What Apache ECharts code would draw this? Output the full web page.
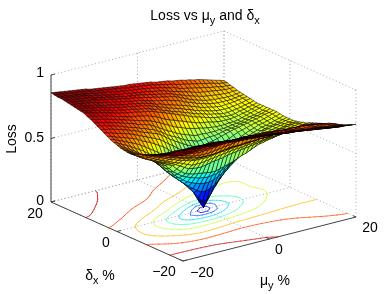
<!DOCTYPE html>
<html><head><meta charset="utf-8">
<style>html,body{margin:0;padding:0;background:#fff}#c{width:392px;height:294px}</style>
<script src="https://cdn.jsdelivr.net/npm/echarts@6/dist/echarts.min.js"></script>
</head><body><div id="c"></div>
<script>
const muValues=[-20,-19,-18,-17,-16,-15,-14,-13,-12,-11,-10,-9,-8,-7,-6,-5,-4,-3,-2,-1,0,1,2,3,4,5,6,7,8,9,10,11,12,13,14,15,16,17,18,19,20];
const deltaValues=[20,19,18,17,16,15,14,13,12,11,10,9,8,7,6,5,4,3,2,1,0,-1,-2,-3,-4,-5,-6,-7,-8,-9,-10,-11,-12,-13,-14,-15,-16,-17,-18,-19,-20];
const muTicks=[-20,0,20];
const deltaTicks=[-20,0,20];
const lossTicks=[0,0.5,1];
const contourLevels=[0.1,0.2,0.3,0.4,0.5,0.6,0.7,0.8];
const lossByDelta=[
[.86,.855,.85,.845,.84,.835,.83,.825,.82,.81,.805,.80,.795,.79,.785,.78,.775,.77,.77,.765,.76,.755,.75,.745,.735,.73,.725,.72,.71,.705,.70,.69,.685,.675,.67,.66,.65,.64,.63,.62,.61],
[.855,.85,.845,.84,.835,.83,.825,.82,.815,.805,.80,.795,.79,.785,.78,.775,.77,.76,.76,.755,.75,.745,.74,.735,.725,.72,.71,.705,.695,.685,.68,.67,.665,.655,.65,.64,.635,.625,.615,.61,.605],
[.85,.845,.84,.835,.83,.825,.82,.815,.81,.80,.795,.79,.785,.775,.77,.765,.76,.755,.75,.745,.74,.735,.73,.72,.715,.705,.695,.69,.675,.665,.66,.65,.645,.635,.63,.62,.615,.61,.60,.60,.595],
[.85,.845,.84,.835,.83,.825,.82,.81,.805,.795,.79,.78,.775,.77,.76,.76,.75,.745,.74,.735,.73,.72,.715,.71,.70,.69,.68,.67,.66,.65,.64,.63,.62,.615,.61,.605,.60,.595,.59,.59,.59],
[.845,.84,.835,.83,.825,.82,.815,.805,.80,.79,.785,.775,.77,.765,.755,.75,.745,.74,.735,.725,.72,.71,.705,.695,.69,.68,.665,.655,.64,.63,.62,.61,.60,.595,.59,.585,.58,.58,.575,.58,.58],
[.84,.835,.83,.825,.82,.815,.81,.80,.795,.785,.78,.77,.765,.76,.75,.745,.74,.73,.725,.715,.71,.70,.695,.685,.68,.67,.655,.64,.625,.61,.60,.59,.58,.575,.57,.57,.565,.565,.565,.57,.575],
[.835,.83,.825,.82,.815,.81,.80,.79,.785,.775,.77,.76,.755,.75,.74,.735,.73,.72,.71,.70,.695,.685,.68,.67,.66,.65,.635,.62,.61,.595,.585,.575,.565,.56,.555,.555,.555,.555,.56,.565,.57],
[.83,.825,.82,.81,.805,.80,.79,.78,.775,.765,.76,.75,.745,.74,.73,.725,.72,.71,.70,.685,.68,.665,.655,.645,.635,.625,.615,.60,.59,.575,.565,.56,.55,.545,.54,.545,.545,.55,.555,.56,.565],
[.825,.82,.815,.805,.80,.795,.785,.775,.765,.76,.75,.745,.74,.73,.725,.72,.71,.70,.69,.675,.665,.65,.64,.63,.62,.605,.595,.58,.57,.56,.55,.54,.535,.53,.53,.53,.535,.54,.545,.555,.56],
[.82,.815,.805,.80,.79,.785,.775,.765,.755,.75,.74,.735,.73,.72,.715,.71,.70,.685,.68,.66,.65,.635,.625,.615,.60,.59,.575,.565,.555,.545,.535,.53,.52,.515,.515,.52,.525,.53,.54,.545,.555],
[.815,.81,.80,.79,.785,.775,.765,.755,.745,.74,.73,.725,.72,.71,.705,.70,.69,.675,.665,.65,.64,.625,.61,.60,.585,.57,.56,.55,.54,.53,.52,.515,.51,.505,.505,.51,.52,.525,.535,.54,.55],
[.80,.795,.785,.775,.77,.76,.75,.74,.73,.72,.71,.705,.70,.69,.685,.67,.66,.64,.625,.61,.60,.585,.575,.56,.55,.535,.525,.52,.515,.505,.50,.495,.495,.495,.50,.505,.515,.52,.53,.54,.55],
[.79,.78,.77,.765,.755,.745,.735,.725,.715,.705,.695,.685,.675,.665,.655,.64,.625,.605,.59,.57,.555,.545,.53,.52,.51,.505,.495,.49,.485,.48,.48,.48,.485,.485,.49,.50,.51,.52,.53,.54,.55],
[.775,.765,.76,.75,.74,.73,.72,.71,.70,.69,.675,.665,.655,.645,.625,.605,.585,.565,.55,.53,.515,.50,.49,.475,.47,.47,.465,.465,.465,.47,.47,.475,.48,.485,.49,.50,.51,.515,.525,.535,.55],
[.76,.75,.745,.735,.725,.715,.705,.69,.68,.67,.655,.645,.63,.62,.60,.58,.555,.535,.52,.50,.48,.465,.455,.44,.44,.445,.45,.45,.455,.465,.47,.475,.48,.49,.495,.505,.515,.52,.53,.54,.55],
[.745,.735,.73,.72,.71,.70,.69,.675,.665,.65,.635,.625,.61,.60,.58,.555,.53,.51,.49,.47,.45,.435,.42,.41,.415,.425,.43,.44,.45,.46,.47,.48,.485,.495,.50,.51,.515,.525,.535,.54,.55],
[.73,.72,.71,.70,.69,.68,.67,.655,.64,.625,.61,.595,.58,.565,.54,.515,.49,.465,.44,.42,.395,.38,.365,.355,.36,.375,.39,.405,.42,.435,.45,.465,.475,.485,.495,.505,.51,.52,.53,.54,.55],
[.715,.705,.69,.68,.67,.655,.645,.63,.61,.595,.58,.56,.54,.52,.495,.46,.42,.385,.35,.32,.29,.27,.26,.265,.285,.31,.335,.36,.385,.405,.425,.445,.46,.475,.485,.50,.505,.515,.525,.535,.545],
[.70,.69,.675,.66,.645,.63,.615,.595,.575,.55,.53,.505,.48,.45,.42,.39,.355,.315,.27,.225,.18,.16,.16,.195,.24,.28,.315,.345,.37,.395,.415,.44,.455,.47,.48,.495,.50,.51,.52,.53,.54],
[.69,.675,.655,.64,.62,.60,.58,.56,.535,.51,.48,.45,.42,.39,.36,.33,.29,.25,.20,.15,.09,.08,.12,.18,.23,.27,.305,.335,.365,.39,.415,.435,.455,.47,.485,.495,.505,.51,.52,.53,.54],
[.68,.66,.64,.62,.60,.575,.55,.525,.50,.465,.43,.395,.36,.335,.305,.27,.235,.20,.135,.07,.015,.07,.135,.20,.235,.27,.305,.335,.365,.395,.42,.44,.46,.48,.50,.505,.515,.52,.525,.535,.54],
[.67,.65,.63,.61,.59,.57,.545,.52,.49,.455,.415,.38,.345,.315,.285,.25,.21,.17,.12,.085,.09,.13,.18,.225,.265,.30,.33,.36,.385,.41,.43,.45,.47,.49,.50,.51,.515,.525,.53,.535,.54],
[.665,.645,.625,.605,.59,.565,.54,.515,.485,.45,.41,.375,.345,.31,.28,.25,.225,.20,.18,.18,.19,.21,.24,.275,.305,.335,.36,.385,.41,.43,.45,.47,.485,.50,.51,.515,.52,.53,.535,.54,.545],
[.66,.64,.62,.60,.585,.565,.54,.515,.49,.455,.42,.385,.355,.33,.305,.29,.275,.265,.26,.26,.27,.285,.305,.33,.36,.385,.41,.43,.45,.47,.485,.50,.51,.52,.525,.53,.535,.54,.545,.55,.55],
[.66,.64,.62,.60,.585,.565,.545,.525,.50,.465,.43,.405,.38,.365,.35,.34,.33,.325,.32,.325,.33,.345,.36,.38,.40,.42,.44,.455,.47,.49,.50,.51,.52,.525,.53,.535,.54,.545,.55,.555,.56],
[.665,.64,.62,.60,.585,.565,.55,.535,.515,.50,.465,.435,.41,.40,.39,.385,.38,.375,.37,.37,.38,.39,.40,.41,.425,.44,.45,.465,.48,.495,.50,.51,.515,.525,.53,.535,.54,.55,.555,.56,.565],
[.675,.65,.63,.61,.595,.58,.565,.55,.535,.52,.50,.48,.46,.455,.45,.45,.455,.465,.47,.475,.48,.49,.495,.50,.505,.51,.515,.52,.525,.53,.535,.54,.54,.545,.55,.555,.56,.565,.57,.575,.58],
[.69,.67,.65,.63,.615,.60,.585,.57,.555,.545,.53,.515,.50,.50,.50,.505,.51,.515,.52,.525,.53,.535,.54,.54,.545,.55,.55,.555,.555,.56,.565,.565,.57,.57,.575,.575,.58,.58,.585,.585,.59],
[.70,.685,.67,.655,.64,.625,.61,.60,.585,.575,.565,.555,.55,.55,.55,.55,.555,.56,.565,.565,.57,.575,.575,.58,.58,.585,.585,.59,.59,.59,.595,.595,.60,.60,.60,.60,.60,.60,.60,.60,.60],
[.71,.695,.685,.67,.66,.645,.635,.625,.61,.60,.59,.58,.58,.58,.58,.58,.585,.59,.595,.595,.60,.60,.60,.605,.605,.605,.61,.61,.61,.615,.615,.615,.62,.62,.62,.62,.62,.615,.615,.61,.61],
[.72,.71,.70,.69,.68,.665,.655,.64,.63,.62,.615,.605,.60,.60,.60,.60,.605,.61,.615,.62,.62,.62,.625,.625,.625,.63,.63,.63,.63,.635,.635,.64,.64,.64,.64,.635,.635,.63,.63,.625,.62],
[.735,.725,.715,.705,.695,.685,.675,.665,.655,.645,.64,.635,.635,.635,.64,.645,.65,.655,.66,.665,.67,.67,.67,.67,.665,.665,.665,.66,.66,.66,.66,.66,.66,.66,.655,.655,.65,.645,.64,.635,.63],
[.745,.735,.73,.72,.71,.70,.695,.69,.685,.68,.675,.68,.68,.685,.69,.695,.70,.70,.705,.705,.71,.705,.705,.70,.70,.70,.695,.69,.69,.685,.68,.68,.68,.675,.675,.67,.665,.66,.655,.65,.64],
[.76,.755,.745,.74,.735,.73,.72,.715,.71,.71,.71,.71,.715,.715,.72,.72,.72,.725,.725,.725,.725,.725,.72,.72,.72,.715,.71,.71,.705,.70,.70,.70,.695,.695,.69,.685,.68,.675,.67,.665,.655],
[.775,.77,.765,.76,.755,.755,.75,.75,.745,.745,.745,.74,.74,.74,.74,.74,.74,.74,.74,.74,.74,.735,.735,.73,.73,.725,.72,.72,.715,.71,.705,.70,.695,.69,.69,.685,.68,.68,.675,.67,.665],
[.79,.79,.79,.785,.785,.785,.785,.785,.78,.78,.78,.775,.77,.77,.765,.76,.76,.755,.755,.75,.75,.745,.74,.74,.735,.73,.725,.72,.72,.715,.71,.705,.70,.695,.695,.69,.685,.68,.68,.675,.67],
[.80,.80,.80,.80,.80,.80,.80,.80,.80,.80,.80,.795,.79,.785,.78,.775,.77,.77,.765,.76,.76,.755,.755,.75,.745,.74,.735,.735,.73,.725,.72,.715,.71,.71,.705,.70,.695,.69,.69,.685,.68],
[.81,.815,.815,.815,.815,.815,.815,.815,.81,.81,.81,.805,.80,.80,.795,.79,.785,.785,.78,.775,.775,.77,.765,.765,.76,.755,.75,.745,.74,.74,.735,.73,.725,.72,.715,.71,.705,.70,.70,.695,.69],
[.815,.82,.825,.83,.83,.83,.83,.825,.825,.825,.82,.82,.815,.815,.81,.805,.80,.80,.795,.79,.79,.785,.78,.775,.77,.765,.76,.76,.755,.75,.745,.74,.735,.73,.725,.72,.715,.71,.71,.705,.70],
[.82,.83,.83,.84,.84,.84,.84,.84,.835,.835,.83,.83,.825,.825,.82,.82,.815,.81,.81,.805,.805,.80,.795,.79,.785,.78,.78,.775,.77,.765,.76,.755,.75,.745,.74,.735,.73,.725,.725,.72,.715],
[.83,.835,.84,.845,.85,.85,.85,.845,.845,.84,.84,.84,.835,.835,.83,.83,.825,.825,.825,.82,.82,.815,.81,.81,.805,.80,.795,.79,.79,.785,.78,.775,.77,.76,.755,.75,.745,.74,.74,.735,.73]
];

const FONT='"Liberation Sans",Arial,sans-serif';
const FRONT=[183,261],MU_SPAN=[173,-44],DELTA_SPAN=[-132,-59],LOSS_SPAN=[0,-127];
const AXIS='#444',GRID='#aaa';
const lossMin=.015,lossMax=.86;

function project(mu,delta,loss){
  const a=(mu+20)/40,b=(delta+20)/40;
  return [FRONT[0]+a*MU_SPAN[0]+b*DELTA_SPAN[0]+loss*LOSS_SPAN[0],
          FRONT[1]+a*MU_SPAN[1]+b*DELTA_SPAN[1]+loss*LOSS_SPAN[1]];
}
function depth(mu,delta,loss){return 16764*(mu+20)/40+21971*(delta+20)/40-16015*loss;}
function jet(v){
  const t=Math.max(0,Math.min(1,(v-lossMin)/(lossMax-lossMin)));
  const ch=x=>Math.round(255*Math.max(0,Math.min(1,1.5-Math.abs(4*t-x))));
  return 'rgb('+ch(3)+','+ch(2)+','+ch(1)+')';
}

/* surface cells, far to near */
const cells=[];
for(let r=0;r<deltaValues.length-1;r++)for(let c=0;c<muValues.length-1;c++){
  const m=(lossByDelta[r][c]+lossByDelta[r][c+1]+lossByDelta[r+1][c]+lossByDelta[r+1][c+1])/4;
  cells.push([r,c,m,depth((muValues[c]+muValues[c+1])/2,(deltaValues[r]+deltaValues[r+1])/2,m)]);
}
cells.sort((p,q)=>q[3]-p[3]);

/* contour field: the hand-read values, evened out away from the cone tip */
const nR=deltaValues.length,nC=muValues.length;
let field=lossByDelta.map(row=>row.slice());
for(let pass=0;pass<3;pass++){
  field=field.map((row,r)=>row.map((v,c)=>{
    let sum=0,wt=0;
    for(let i=-1;i<=1;i++)for(let j=-1;j<=1;j++){
      const R=r+i,C=c+j;
      if(R<0||R>=nR||C<0||C>=nC)continue;
      const w=(i?1:2)*(j?1:2);sum+=w*field[R][C];wt+=w;
    }
    const keep=Math.max(0,Math.min(1,(.38-lossByDelta[r][c])/.12));
    return keep*v+(1-keep)*sum/wt;
  }));
}

/* contour segments on the floor */
const segs=[];
contourLevels.forEach(level=>{
  for(let r=0;r<nR-1;r++)for(let c=0;c<nC-1;c++){
    const corners=[[r,c],[r,c+1],[r+1,c+1],[r+1,c]];
    const pts=[];
    for(let k=0;k<4;k++){
      const A=corners[k],B=corners[(k+1)%4];
      const va=field[A[0]][A[1]],vb=field[B[0]][B[1]];
      if((va<level)!==(vb<level)){
        const f=(level-va)/(vb-va);
        pts.push([muValues[A[1]]+f*(muValues[B[1]]-muValues[A[1]]),deltaValues[A[0]]+f*(deltaValues[B[0]]-deltaValues[A[0]])]);
      }
    }
    for(let k=0;k+1<pts.length;k+=2)segs.push([pts[k][0],pts[k][1],pts[k+1][0],pts[k+1][1],level]);
  }
});

/* box lines: [from],[to] in data space */
const dotted=[],solid=[];
const muMin=muTicks[0],muMax=muTicks[2],dMin=deltaTicks[0],dMax=deltaTicks[2],zMax=lossTicks[2];
lossTicks.forEach(z=>{dotted.push([muMin,dMax,z,muMax,dMax,z]);dotted.push([muMax,dMax,z,muMax,dMin,z]);});
muTicks.forEach(m=>{dotted.push([m,dMax,0,m,dMax,zMax]);if(m<muMax)dotted.push([m,dMin,0,m,dMax,0]);});
deltaTicks.forEach(d=>{dotted.push([muMax,d,0,muMax,d,zMax]);if(d>dMin)dotted.push([muMin,d,0,muMax,d,0]);});
solid.push([muMin,dMax,0,muMin,dMax,zMax],[muMin,dMin,0,muMin,dMax,0],[muMin,dMin,0,muMax,dMin,0]);
lossTicks.forEach(z=>solid.push([muMin,dMax,z,muMin+.9,dMax,z]));
deltaTicks.forEach(d=>solid.push([muMin,d,0,muMin+.9,d,0]));
muTicks.forEach(m=>solid.push([m,dMin,0,m,dMin+.9,0]));

function lineItem(api,a,style){
  const p=api.coord(project(a[0],a[1],a[2])),q=api.coord(project(a[3],a[4],a[5]));
  return {type:'line',shape:{x1:p[0],y1:p[1],x2:q[0],y2:q[1]},style};
}
const txt=(text,x,y,size,align,extra)=>Object.assign({type:'text',silent:true,x,y,
  style:{text,font:size+'px '+FONT,fill:'#000',textAlign:align||'center',textVerticalAlign:'middle'}},extra||{});
const subRich={a:{fontSize:14,fontFamily:FONT,color:'#000'},s:{fontSize:11,fontFamily:FONT,color:'#000',padding:[9,0,0,0]}};

const chart=echarts.init(document.getElementById('c'));
chart.setOption({
  animation:false,
  backgroundColor:'#fff',
  title:{text:'{a|Loss vs μ}{s|y}{a| and δ}{s|x}',left:200,top:1,textAlign:'center',
    textStyle:{rich:{a:{fontSize:14,fontWeight:'normal',fontFamily:FONT,color:'#000'},s:{fontSize:11,fontWeight:'normal',fontFamily:FONT,color:'#000',padding:[9,0,0,0]}}}},
  grid:{left:0,right:0,top:0,bottom:0},
  xAxis:{type:'value',min:0,max:392,show:false},
  yAxis:{type:'value',min:0,max:294,inverse:true,show:false},
  graphic:[
    txt(String(lossTicks[2]),44,73,14,'right'),
    txt(String(lossTicks[1]),44,138,14,'right'),
    txt(String(lossTicks[0]),44,201,14,'right'),
    txt('Loss',12,139,14,'center',{rotation:Math.PI/2}),
    txt('20',35,214,14),txt('0',106,243,14),txt('−20',164,272,14),
    txt('−20',202,273,14),txt('0',279,250,14),txt('20',370,228,14),
    {type:'text',x:100,y:276,silent:true,style:{text:'{a|δ}{s|x}{a| %}',textAlign:'center',textVerticalAlign:'middle',rich:subRich}},
    {type:'text',x:275,y:281,silent:true,style:{text:'{a|μ}{s|y}{a| %}',textAlign:'center',textVerticalAlign:'middle',rich:subRich}}
  ],
  series:[
    {type:'custom',coordinateSystem:'cartesian2d',z:1,silent:true,data:dotted,progressive:0,
      renderItem:(p,api)=>lineItem(api,dotted[p.dataIndex],{stroke:GRID,lineWidth:1,lineDash:[1,2.5]})},
    {type:'custom',coordinateSystem:'cartesian2d',z:2,silent:true,data:solid,progressive:0,
      renderItem:(p,api)=>lineItem(api,solid[p.dataIndex],{stroke:AXIS,lineWidth:1})},
    {type:'custom',coordinateSystem:'cartesian2d',z:3,silent:true,data:segs,progressive:0,
      renderItem:(p,api)=>{const s=segs[p.dataIndex];
        return lineItem(api,[s[0],s[1],0,s[2],s[3],0],{stroke:jet(s[4]),lineWidth:.9,opacity:.75,lineCap:'round'});}},
    {type:'custom',coordinateSystem:'cartesian2d',z:4,silent:true,data:cells,progressive:0,
      renderItem:(p,api)=>{
        const cell=cells[p.dataIndex],r=cell[0],c=cell[1];
        const corners=[[r,c],[r,c+1],[r+1,c+1],[r+1,c]];
        const points=corners.map(k=>api.coord(project(muValues[k[1]],deltaValues[k[0]],lossByDelta[k[0]][k[1]])));
        return {type:'polygon',shape:{points},style:{fill:jet(cell[2]),stroke:'rgba(0,0,0,.85)',lineWidth:.62}};
      }}
  ]
});
</script>
</body></html>
